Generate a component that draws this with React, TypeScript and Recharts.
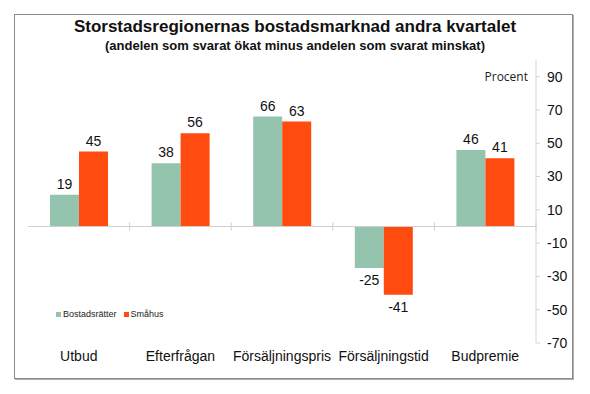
import React from 'react';
import { BarChart, Bar, XAxis, YAxis, ReferenceLine, LabelList } from 'recharts';

const kategorier = ['Utbud', 'Efterfrågan', 'Försäljningspris', 'Försäljningstid', 'Budpremie'];
const bostadsratter = [19, 38, 66, -25, 46];
const smahus = [45, 56, 63, -41, 41];
const yTicks = [-70, -50, -30, -10, 10, 30, 50, 70, 90];

const serier = [
  { key: 'bostadsratter', namn: 'Bostadsrätter', farg: '#94c3ae' },
  { key: 'smahus', namn: 'Småhus', farg: '#ff4b0f' },
];

const data = kategorier.map((k, i) => ({ kategori: k, bostadsratter: bostadsratter[i], smahus: smahus[i] }));

const FONT = '"Liberation Sans", Arial, sans-serif';

// etikett ovanför positiva staplar och under negativa
const Etikett = (props: any) => {
  const { x, y, width, height, value } = props;
  const top = Math.min(y, y + height);
  const bottom = Math.max(y, y + height);
  const ty = value >= 0 ? top - 6 : bottom + 17;
  return (
    <text x={x + width / 2} y={ty} textAnchor="middle" fontSize={14} fontFamily={FONT} fill="#111">
      {value}
    </text>
  );
};

// nollinjen med små streck mellan kategorierna
const NollLinje = (props: any) => {
  const { x1, x2, y1 } = props;
  const n = kategorier.length;
  const steg = (x2 - x1) / n;
  return (
    <g>
      <line x1={x1} x2={x2} y1={y1} y2={y1} stroke="#cfcfcf" strokeWidth={1} />
      {Array.from({ length: n }, (_, i) => (
        <line key={i} x1={x1 + i * steg} x2={x1 + i * steg} y1={y1 - 4} y2={y1 + 4} stroke="#cfcfcf" />
      ))}
    </g>
  );
};

export default function App() {
  return (
    <div style={{ position: 'absolute', left: 0, top: 0, width: 590, height: 394, background: '#fff', fontFamily: FONT }}>
      <div
        style={{
          position: 'absolute', left: 14, top: 14, width: 557, height: 363,
          border: '1px solid #8a8a8a', boxShadow: '1px 1px 0 #b0b0b0',
        }}
      />
      <div style={{ position: 'absolute', left: 0, width: 590, top: 17, textAlign: 'center', fontSize: 17, fontWeight: 'bold', color: '#111' }}>
        Storstadsregionernas bostadsmarknad andra kvartalet
      </div>
      <div style={{ position: 'absolute', left: 0, width: 590, top: 38, textAlign: 'center', fontSize: 13, fontWeight: 'bold', color: '#111' }}>
        (andelen som svarat ökat minus andelen som svarat minskat)
      </div>
      <div style={{ position: 'absolute', right: 590 - 528, top: 68, fontSize: 12, fontFamily: '"Open Sans", sans-serif', color: '#222' }}>
        Procent
      </div>
      <div style={{ position: 'absolute', left: 0, top: 0 }}>
        <BarChart
          width={590}
          height={394}
          data={data}
          margin={{ top: 60, right: 14, left: 28, bottom: 0 }}
          barCategoryGap={22}
          barGap={0}
        >
          <XAxis
            dataKey="kategori"
            axisLine={false}
            tickLine={false}
            tickSize={0}
            tickMargin={8}
            height={51}
            interval={0}
            tick={{ fontSize: 14, fill: '#111', fontFamily: FONT }}
          />
          <YAxis
            orientation="right"
            domain={[-70, 100]}
            ticks={yTicks}
            allowDataOverflow
            width={40}
            axisLine={{ stroke: '#d4d4d4' }}
            tickLine={{ stroke: '#d4d4d4' }}
            tickSize={4}
            tickMargin={7}
            tick={{ fontSize: 14, fill: '#111', fontFamily: FONT }}
          />
          <ReferenceLine y={0} shape={<NollLinje />} />
          {serier.map((s) => (
            <Bar key={s.key} dataKey={s.key} name={s.namn} fill={s.farg} isAnimationActive={false}>
              <LabelList dataKey={s.key} content={<Etikett />} />
            </Bar>
          ))}
        </BarChart>
      </div>
      <div style={{ position: 'absolute', left: 56, top: 309, display: 'flex', alignItems: 'center', fontSize: 9, color: '#222' }}>
        {serier.map((s) => (
          <span key={s.key} style={{ display: 'flex', alignItems: 'center', marginRight: 7 }}>
            <span style={{ width: 5, height: 5, background: s.farg, marginRight: 2 }} />
            {s.namn}
          </span>
        ))}
      </div>
    </div>
  );
}
